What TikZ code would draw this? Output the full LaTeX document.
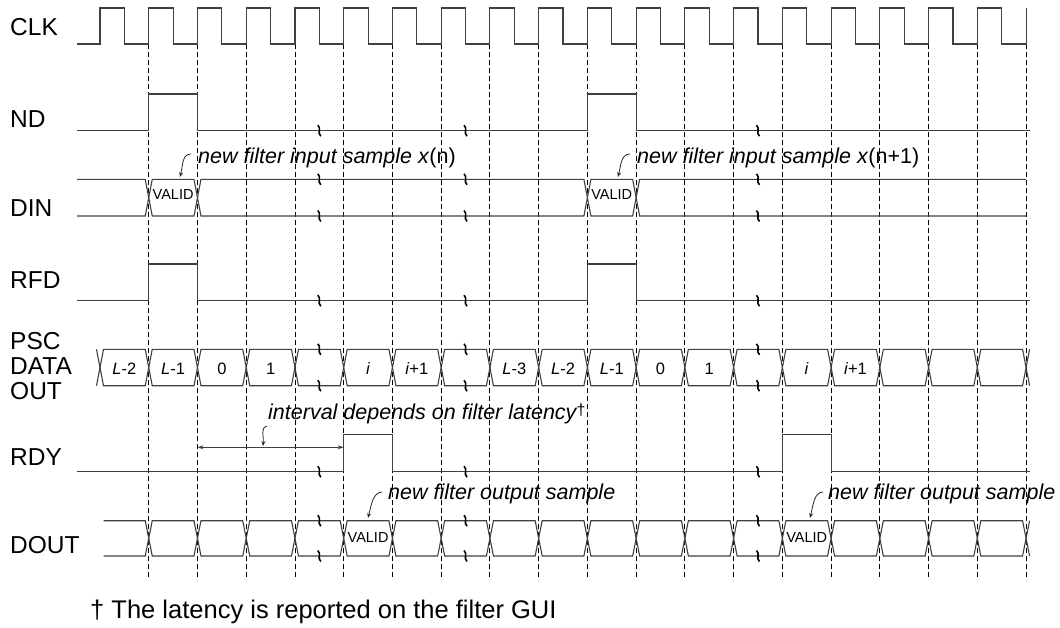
\documentclass[tikz,border=0pt]{standalone}
\usepackage{fontspec}
\setmainfont{Liberation Sans}
\usetikzlibrary{arrows.meta}

\begin{document}
\begin{tikzpicture}[x=1pt, y=-1pt,
    declare function={ex(\k)=100+48.74*\k;},
    wave/.style={draw=black!75, line width=1.1pt},
    guide/.style={black, line width=0.9pt, dash pattern=on 5pt off 3pt},
    sig/.style={font=\fontsize{24.5}{25.3}\selectfont, anchor=base west, inner sep=0pt},
    note/.style={font=\fontsize{21.5}{24}\selectfont\itshape, anchor=base west, inner sep=0pt},
    note arrow/.style={black!85, line width=0.8pt, -{Stealth[length=5pt,width=4pt]}},
    val/.style={font=\fontsize{16.5}{18}\selectfont, inner sep=0pt},
    tag/.style={font=\fontsize{14.5}{16}\selectfont, inner sep=0pt},
    brk/.pic={\draw[black, line width=1.6pt] (-1.5,-5.5) .. controls (2.5,-2) and (-2.5,2) .. (1.5,5.5);}]

    \useasboundingbox (0,0) rectangle (1060,627);

    % clock edges
    \foreach \i in {1,...,19}
        \draw[guide] ({ex(\i)},44) -- ({ex(\i)},580);

    % signal names
    \node[sig] (clk) at (10,35) {CLK};
    \node[sig] (nd) at (10,127) {ND};
    \node[sig] (din) at (10,216.7) {DIN};
    \node[sig] (rfd) at (10,288.3) {RFD};
    \node[sig, anchor=west, align=left] (psc) at (10,366) {PSC\\DATA\\OUT};
    \node[sig] (rdy) at (10,465) {RDY};
    \node[sig] (dout) at (10,553) {DOUT};

    % CLK
    \draw[wave] (77,44) \foreach \i in {0,...,18} { -- ({ex(\i)},44) -- ({ex(\i)},8) -- ({ex(\i+0.5)},8) -- ({ex(\i+0.5)},44) } -- ({ex(19)},44) -- ({ex(19)},8);

    % ND, RFD, RDY
    \draw[wave] (77,130.7) -- ({ex(1)},130.7) -- ({ex(1)},94) -- ({ex(2)},94) -- ({ex(2)},130.7) -- ({ex(10)},130.7) -- ({ex(10)},94) -- ({ex(11)},94) -- ({ex(11)},130.7) -- (1030,130.7);
    \draw[wave] (77,300.7) -- ({ex(1)},300.7) -- ({ex(1)},264) -- ({ex(2)},264) -- ({ex(2)},300.7) -- ({ex(10)},300.7) -- ({ex(10)},264) -- ({ex(11)},264) -- ({ex(11)},300.7) -- (1030,300.7);
    \draw[wave] (77,471.7) -- ({ex(5)},471.7) -- ({ex(5)},434.3) -- ({ex(6)},434.3) -- ({ex(6)},471.7) -- ({ex(14)},471.7) -- ({ex(14)},434.3) -- ({ex(15)},434.3) -- ({ex(15)},471.7) -- (1030,471.7);

    % DIN
    \draw[wave] (77,179.3) -- ({ex(1)-3.5},179.3) -- ({ex(1)},197.7) -- ({ex(1)-3.5},216) -- (77,216);
    \foreach \a/\b in {1/2, 2/10, 10/11}
        \draw[wave] ({ex(\a)},197.7) -- ({ex(\a)+3.5},179.3) -- ({ex(\b)-3.5},179.3) -- ({ex(\b)},197.7) -- ({ex(\b)-3.5},216) -- ({ex(\a)+3.5},216) -- cycle;
    \draw[wave] (1026,179.3) -- ({ex(11)+3.5},179.3) -- ({ex(11)},197.7) -- ({ex(11)+3.5},216) -- (1026,216);
    \node[tag] (din valid1) at ({ex(1.5)},195) {VALID};
    \node[tag] (din valid2) at ({ex(10.5)},195) {VALID};

    % PSC DATA OUT
    \draw[wave] ({ex(0)-3.5},349.3) -- ({ex(0)},367.5) -- ({ex(0)-3.5},385.7);
    \foreach \a in {0,...,18}
        \draw[wave] ({ex(\a)},367.5) -- ({ex(\a)+3.5},349.3) -- ({ex(\a+1)-3.5},349.3) -- ({ex(\a+1)},367.5) -- ({ex(\a+1)-3.5},385.7) -- ({ex(\a)+3.5},385.7) -- cycle;
    \draw[wave] ({ex(19)+3.5},349.3) -- ({ex(19)},367.5) -- ({ex(19)+3.5},385.7);
    \foreach \a/\t in {0/{\textit{L}-2}, 1/{\textit{L}-1}, 2/0, 3/1, 5/\textit{i}, 6/{\textit{i}+1},
                       8/{\textit{L}-3}, 9/{\textit{L}-2}, 10/{\textit{L}-1}, 11/0, 12/1, 14/\textit{i}, 15/{\textit{i}+1}}
        \node[val] (psc\a) at ({ex(\a+0.5)},369) {\t};

    % DOUT
    \draw[wave] ({ex(0)+3.5},520.7) -- ({ex(1)-3.5},520.7) -- ({ex(1)},538.3) -- ({ex(1)-3.5},556) -- ({ex(0)+3.5},556);
    \foreach \a in {1,...,18}
        \draw[wave] ({ex(\a)},538.3) -- ({ex(\a)+3.5},520.7) -- ({ex(\a+1)-3.5},520.7) -- ({ex(\a+1)},538.3) -- ({ex(\a+1)-3.5},556) -- ({ex(\a)+3.5},556) -- cycle;
    \draw[wave] ({ex(19)+3.5},520.7) -- ({ex(19)},538.3) -- ({ex(19)+3.5},556);
    \node[tag] (dout valid1) at ({ex(5.5)},537.5) {VALID};
    \node[tag] (dout valid2) at ({ex(14.5)},537.5) {VALID};

    % breaks
    \foreach \k in {4.5, 7.5, 13.5}
        \foreach \y in {130.7, 179.3, 216, 300.7, 349.3, 385.7, 471.7, 520.7, 556}
            \pic at ({ex(\k)},\y) {brk};

    % latency interval
    \coordinate (ivl a) at ({ex(2)},447.3);
    \coordinate (ivl b) at ({ex(5)},447.3);
    \draw[black!75, line width=0.8pt, {Stealth[length=6pt,width=4pt]}-{Stealth[length=6pt,width=4pt]}] (ivl a) -- (ivl b);

    % notes
    \node[note] (in note1) at (198,163) {new filter input sample x\textup{(n)}};
    \node[note] (in note2) at (637,163) {new filter input sample x\textup{(n+1)}};
    \node[note] (ivl note) at (268,419) {interval depends on filter latency\raisebox{3.5pt}{\upshape\fontsize{16}{16}\selectfont †}};
    \node[note] (out note1) at (388,499) {new filter output sample};
    \node[note] (out note2) at (828,499) {new filter output sample};

    \coordinate (in tip1) at (180,177);
    \coordinate (in tip2) at (618,177);
    \coordinate (ivl tip) at (263,446);
    \coordinate (out tip1) at (368,518);
    \coordinate (out tip2) at (810,518);
    \draw[note arrow] ([shift={(-7,-9)}]in note1.base west) .. controls +(-9,0) and +(3,-12) .. (in tip1);
    \draw[note arrow] ([shift={(-7,-9)}]in note2.base west) .. controls +(-9,0) and +(3,-12) .. (in tip2);
    \draw[note arrow] ([shift={(-1,7)}]ivl note.base west) .. controls +(-7,2) and +(1,-10) .. (ivl tip);
    \draw[note arrow] ([shift={(-6,-7)}]out note1.base west) .. controls +(-9,0) and +(3,-12) .. (out tip1);
    \draw[note arrow] ([shift={(-5,-7)}]out note2.base west) .. controls +(-9,0) and +(3,-12) .. (out tip2);

    \node[sig, font=\fontsize{25.5}{27}\selectfont] (foot) at (90,618.3) {† The latency is reported on the filter GUI};

\end{tikzpicture}
\end{document}
